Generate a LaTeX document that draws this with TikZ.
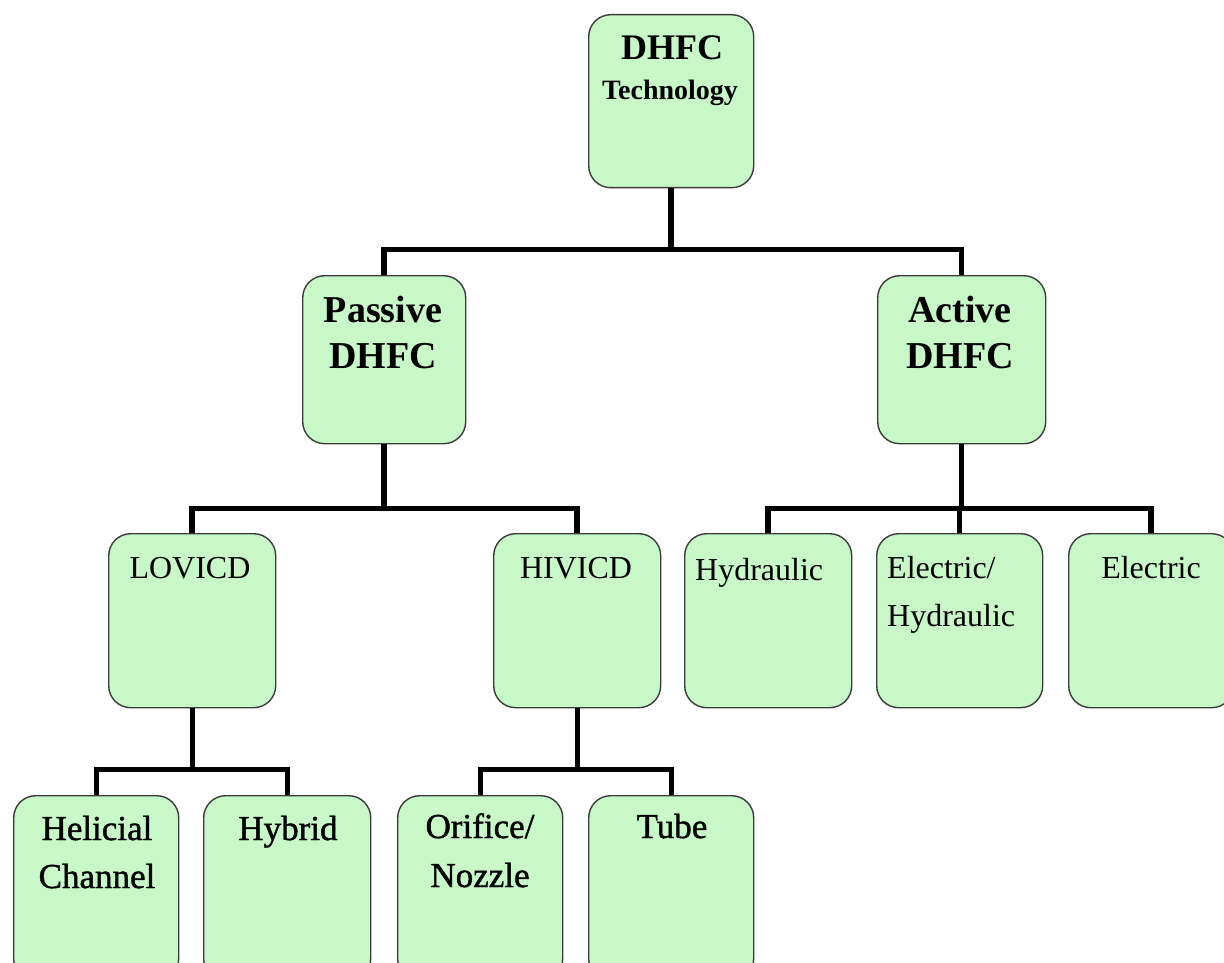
\documentclass[tikz,border=0pt]{standalone}
\usepackage{fontspec}
\setmainfont{Liberation Serif}
\newfontfamily\medserif{Liberation Serif}[FakeBold=1.2]
\definecolor{boxfill}{RGB}{200,247,200}
\definecolor{boxline}{RGB}{60,60,60}
\begin{document}
\begin{tikzpicture}[x=1pt,y=-1pt,
  box/.style={draw=boxline,line width=1.4pt,fill=boxfill,rounded corners=22pt,
    inner sep=0pt,minimum width=#1,text width={},anchor=north west},
  conn/.style={draw=black,line width=5.5pt,line join=miter},
  connb/.style={draw=black,line width=4.8pt,line join=miter},
  bt/.style={font=\fontsize{38}{40}\selectfont\bfseries,anchor=base,inner sep=0pt},
  rt/.style={font=\fontsize{32}{34}\selectfont,anchor=base,inner sep=0pt},
  mt/.style={font=\fontsize{35}{37}\selectfont\medserif,anchor=base,inner sep=0pt}
]
\useasboundingbox (0,0) rectangle (1224,963);
\clip (0,0) rectangle (1224,963);
\fill[white] (0,0) rectangle (1224,963);

% boxes (x0,y0) with width, height
\node[box=165pt,minimum height=173pt] (top) at (588,14) {};
\node[box=163pt,minimum height=168pt] (passive) at (302,275) {};
\node[box=168pt,minimum height=168pt] (active) at (877,275) {};
\node[box=167pt,minimum height=174pt] (lovicd) at (108,533) {};
\node[box=167pt,minimum height=174pt] (hivicd) at (493,533) {};
\node[box=167pt,minimum height=174pt] (hydr) at (684,533) {};
\node[box=166pt,minimum height=174pt] (elhyd) at (876,533) {};
\node[box=165pt,minimum height=174pt] (elec) at (1068,533) {};
\node[box=165pt,minimum height=185pt] (helic) at (13,795) {};
\node[box=167pt,minimum height=185pt] (hybrid) at (203,795) {};
\node[box=165pt,minimum height=185pt] (orif) at (397,795) {};
\node[box=165pt,minimum height=185pt] (tube) at (588,795) {};

% connectors
\draw[conn] (top.south) -- ++(0,61) coordinate (j1);
\draw[conn] (passive.north) |- (j1) -| (active.north);
\draw[conn] (passive.south) -- ++(0,64) coordinate (j2);
\draw[conn] (lovicd.north) |- (j2) -| (hivicd.north);
\draw[conn] (active.south) -- ++(0,64) coordinate (j3);
\draw[conn] (hydr.north) |- (j3) -| (elec.north);
\draw[conn] (elhyd.north |- j3) -- (elhyd.north);
\draw[connb] (lovicd.south) -- ++(0,61) coordinate (j4);
\draw[connb] (helic.north) |- (j4) -| (hybrid.north);
\draw[connb] (hivicd.south) -- ++(0,61) coordinate (j5);
\draw[connb] (orif.north) |- (j5) -| (tube.north);

% texts
\node[bt,font=\fontsize{36}{38}\selectfont\bfseries] (t1) at (672,60) {DHFC};
\node[bt,font=\fontsize{28}{30}\selectfont\bfseries] (t2) at (670,100) {Technology};
\node[bt] (t3) at (383,322) {Passive};
\node[bt] (t4) at (383,368) {DHFC};
\node[bt] (t5) at (960,322) {Active};
\node[bt] (t6) at (960,368) {DHFC};
\node[rt] (t7) at (190,578) {LOVICD};
\node[rt] (t8) at (576,578) {HIVICD};
\node[rt,anchor=base west] (t9) at (695,580) {Hydraulic};
\node[rt,anchor=base west] (t10) at (887,578) {Electric/};
\node[rt,anchor=base west] (t11) at (887,626) {Hydraulic};
\node[rt] (t12) at (1151,578) {Electric};
\node[mt] (t13) at (97,840) {Helicial};
\node[mt] (t14) at (97,888) {Channel};
\node[mt] (t15) at (288,840) {Hybrid};
\node[mt] (t16) at (480,838) {Orifice/};
\node[mt] (t17) at (480,887) {Nozzle};
\node[mt] (t18) at (672,838) {Tube};
\end{tikzpicture}
\end{document}
